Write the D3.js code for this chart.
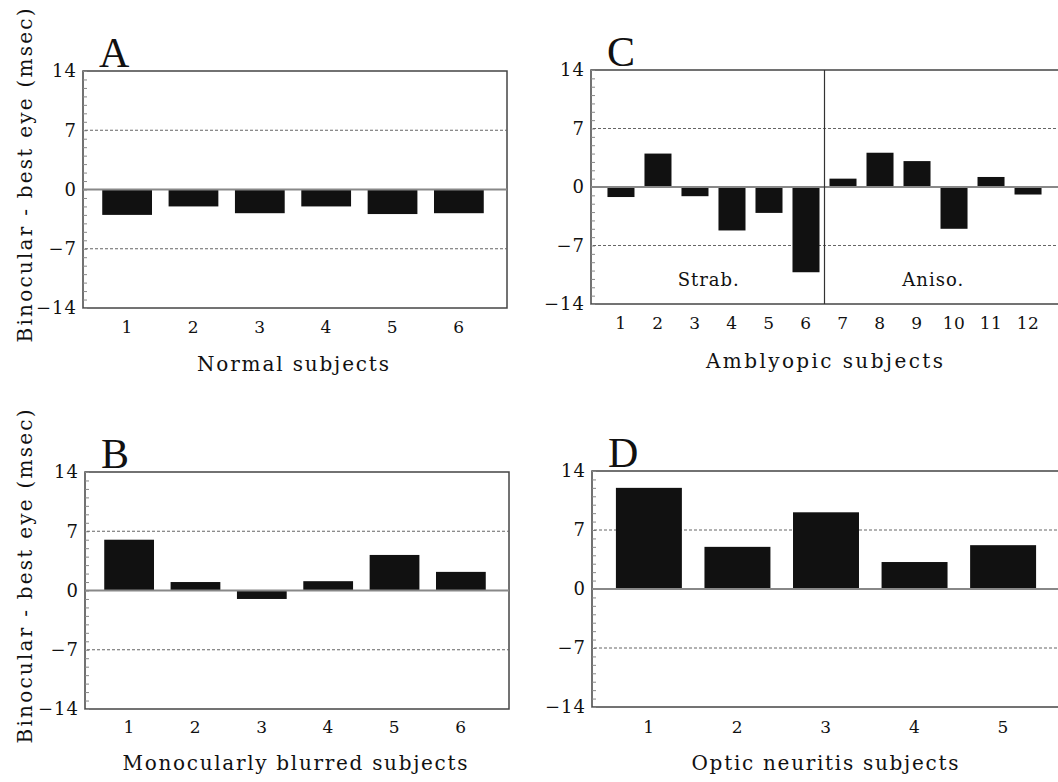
<!DOCTYPE html>
<html>
<head>
<meta charset="utf-8">
<script src="https://cdn.jsdelivr.net/npm/d3@7"></script>
<style>
  body { margin: 0; background: #fff; }
  text { font-family: "DejaVu Serif", serif; fill: #111; }
  .letter { font-family: "Liberation Serif", serif; }
</style>
</head>
<body>
<svg id="fig" width="1058" height="782"></svg>
<script>
// values (msec, binocular - best eye)
var yTicks = [-14, -7, 0, 7, 14];
var normalSubjects = ["1", "2", "3", "4", "5", "6"];
var normalValues = [-3, -2, -2.8, -2, -2.9, -2.8];
var blurredSubjects = ["1", "2", "3", "4", "5", "6"];
var blurredValues = [6, 1, -1, 1.1, 4.2, 2.2];
var amblyopicSubjects = ["1", "2", "3", "4", "5", "6", "7", "8", "9", "10", "11", "12"];
var amblyopicValues = [-1.2, 4, -1.1, -5.2, -3.1, -10.2, 1, 4.1, 3.1, -5, 1.2, -0.9];
var opticSubjects = ["1", "2", "3", "4", "5"];
var opticValues = [12, 5, 9.1, 3.2, 5.2];
var limits = [-7, 7];

var svg = d3.select("#fig");

var panels = [
  { letter: "A", cats: normalSubjects, vals: normalValues, title: "Normal subjects",
    x0: 83, x1: 503, y0: 71, y1: 308, pi: 0.25, po: 0.29, yTitle: true,
    titleW: 192, titleY: 371, tickY: 333 },
  { letter: "B", cats: blurredSubjects, vals: blurredValues, title: "Monocularly blurred subjects",
    x0: 85, x1: 505, y0: 472, y1: 709, pi: 0.25, po: 0.29, yTitle: true,
    titleW: 345, titleY: 770, tickY: 733 },
  { letter: "C", cats: amblyopicSubjects, vals: amblyopicValues, title: "Amblyopic subjects",
    x0: 591, x1: 1058, y0: 70, y1: 304, pi: 0.27, po: 0.445, yTitle: false,
    titleW: 237, titleY: 368, tickY: 329, split: 6 },
  { letter: "D", cats: opticSubjects, vals: opticValues, title: "Optic neuritis subjects",
    x0: 592, x1: 1060, y0: 471, y1: 707, pi: 0.255, po: 0.27, yTitle: false,
    titleW: 267, titleY: 770, tickY: 733 }
];

panels.forEach(function (p) {
  var x = d3.scaleBand().domain(p.cats).range([p.x0, p.x1])
    .paddingInner(p.pi).paddingOuter(p.po);
  var y = d3.scaleLinear().domain([-14, 14]).range([p.y1, p.y0]);
  var g = svg.append("g");

  // frame
  g.append("rect")
    .attr("x", p.x0).attr("y", p.y0)
    .attr("width", (p.x1 + 4) - p.x0).attr("height", p.y1 - p.y0)
    .attr("fill", "none").attr("stroke", "#444").attr("stroke-width", 1.5);

  // minor ticks inside the left edge
  g.append("g")
    .attr("transform", "translate(" + p.x0 + ",0)")
    .call(d3.axisRight(y).tickValues(d3.range(-14, 15)).tickSize(4).tickFormat(""))
    .call(function (a) { a.select(".domain").remove(); })
    .selectAll("line").attr("stroke", "#888");

  // y labels
  var yl = g.append("g")
    .attr("transform", "translate(" + (p.x0 - 6) + ",0)")
    .call(d3.axisLeft(y).tickValues(yTicks).tickSize(0).tickPadding(0));
  yl.select(".domain").remove();
  yl.selectAll("text").attr("font-size", 18).attr("letter-spacing", 1)
    .style("font-family", "DejaVu Serif");

  // limit lines
  g.selectAll(".lim").data(limits).enter().append("line")
    .attr("x1", p.x0 + 2).attr("x2", p.x1 + 4)
    .attr("y1", function (d) { return y(d); }).attr("y2", function (d) { return y(d); })
    .attr("stroke", "#666").attr("stroke-width", 1.2).attr("stroke-dasharray", "3,2");

  // bars
  g.selectAll(".bar").data(p.vals).enter().append("rect")
    .attr("x", function (d, i) { return x(p.cats[i]); })
    .attr("width", x.bandwidth())
    .attr("y", function (d) { return y(Math.max(0, d)); })
    .attr("height", function (d) { return Math.abs(y(d) - y(0)); })
    .attr("fill", "#111");

  // zero line
  g.append("line")
    .attr("x1", p.x0).attr("x2", p.x1 + 4)
    .attr("y1", y(0)).attr("y2", y(0))
    .attr("stroke", "#888").attr("stroke-width", 2);

  // group divider (amblyopic)
  if (p.split) {
    var xs = (x(p.cats[p.split - 1]) + x.bandwidth() + x(p.cats[p.split])) / 2;
    g.append("line").attr("x1", xs).attr("x2", xs).attr("y1", p.y0).attr("y2", p.y1)
      .attr("stroke", "#333").attr("stroke-width", 1.2);
    g.append("text").attr("x", (p.x0 + xs) / 2 + 1).attr("y", y(-11.9))
      .attr("text-anchor", "middle").attr("font-size", 18).attr("letter-spacing", 1)
      .text("Strab.");
    g.append("text").attr("x", (xs + p.x1) / 2 - 8).attr("y", y(-11.9))
      .attr("text-anchor", "middle").attr("font-size", 18).attr("letter-spacing", 1)
      .text("Aniso.");
  }

  // x labels
  var xl = g.append("g")
    .attr("transform", "translate(0," + p.tickY + ")")
    .call(d3.axisBottom(x).tickSize(0).tickPadding(0));
  xl.select(".domain").remove();
  xl.selectAll("text").attr("dy", 0).attr("font-size", 17).attr("letter-spacing", 0.5)
    .style("font-family", "DejaVu Serif");

  // x title
  var cx = (p.x0 + Math.min(p.x1, 1058)) / 2;
  g.append("text")
    .attr("x", cx - p.titleW / 2).attr("y", p.titleY)
    .attr("font-size", 20)
    .attr("textLength", p.titleW).attr("lengthAdjust", "spacing")
    .text(p.title);

  // panel letter
  g.append("text")
    .attr("class", "letter")
    .attr("x", p.x0 + 16)
    .attr("y", p.y0 - 4)
    .attr("font-size", 42)
    .text(p.letter);

  // y title
  if (p.yTitle) {
    var cy = (p.y0 + p.y1) / 2 - 14;
    g.append("text")
      .attr("transform", "translate(32," + (cy + 167) + ") rotate(-90)")
      .attr("font-size", 20)
      .attr("textLength", 334).attr("lengthAdjust", "spacing")
      .text("Binocular - best eye (msec)");
  }
});
</script>
</body>
</html>
